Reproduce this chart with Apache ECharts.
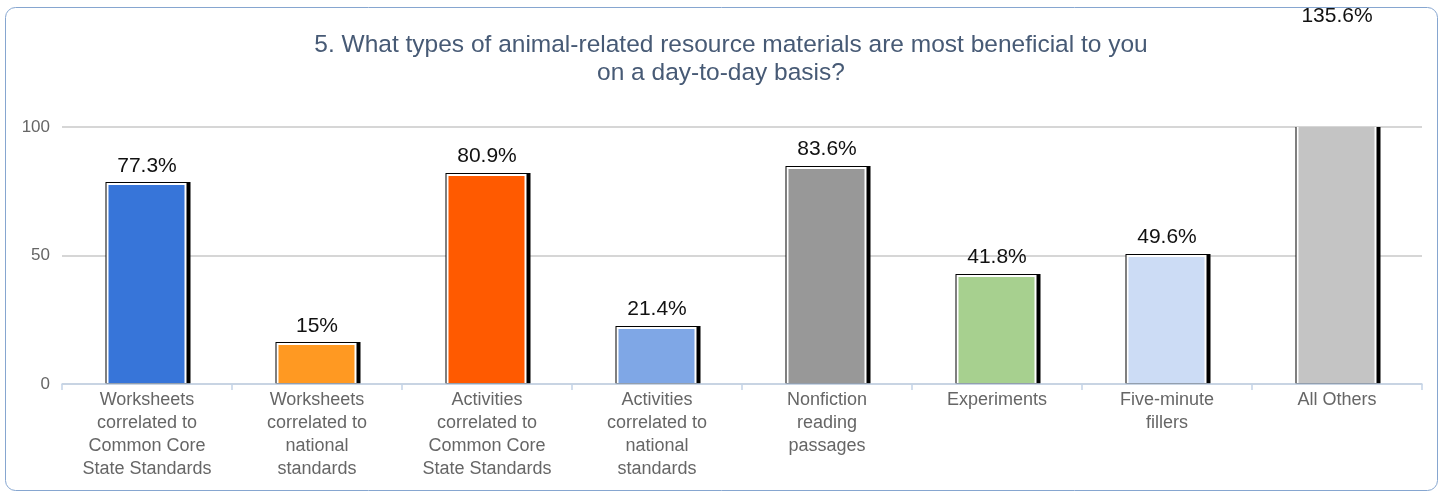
<!DOCTYPE html>
<html>
<head>
<meta charset="utf-8">
<style>
  html, body { margin: 0; padding: 0; background: #fff; }
  #main { width: 1439px; height: 493px; }
</style>
<script src="https://cdn.jsdelivr.net/npm/echarts@6/dist/echarts.min.js"></script>
</head>
<body>
<div id="main"></div>
<script>
// categories and values
var categories = [
  'Worksheets\ncorrelated to\nCommon Core\nState Standards',
  'Worksheets\ncorrelated to\nnational\nstandards',
  'Activities\ncorrelated to\nCommon Core\nState Standards',
  'Activities\ncorrelated to\nnational\nstandards',
  'Nonfiction\nreading\npassages',
  'Experiments',
  'Five-minute\nfillers',
  'All Others'
];
var values = [77.3, 15, 80.9, 21.4, 83.6, 41.8, 49.6, 135.6];
var barColors = ['#3775d9', '#ff9922', '#ff5a00', '#7fa7e6', '#989898', '#a7d08f', '#ccdcf5', '#c4c4c4'];
var yTicks = [0, 50, 100];

var chart = echarts.init(document.getElementById('main'));

// bar = black outline with a heavier right edge, white inner rim, then the fill
function renderBar(params, api) {
  var i = api.value(0);
  var v = api.value(1);
  var top = api.coord([i, v]);
  var base = api.coord([i, 0]);
  var cs = params.coordSys;
  var bw = Math.round(api.size([1, 0])[0] * 0.47);
  var x0 = Math.round(base[0] - bw / 2) - 0.5;
  var yBot = base[1];
  var clipped = top[1] - 3 < cs.y;
  // bars above the axis max are cut at the plot top, no top rim there
  var yOut = clipped ? cs.y : Math.round(top[1]) - 3;
  var yIn = clipped ? cs.y : yOut + 1;
  var yFill = clipped ? cs.y : yOut + 3;
  return {
    type: 'group',
    children: [
      { type: 'rect', shape: { x: x0 - 1, y: yOut, width: bw + 5, height: yBot - yOut }, style: { fill: '#000' } },
      { type: 'rect', shape: { x: x0, y: yIn, width: bw, height: yBot - 1 - yIn }, style: { fill: '#fff' } },
      { type: 'rect', shape: { x: x0 + 2, y: yFill, width: bw - 4, height: yBot - 3 - yFill + 2 }, style: { fill: barColors[i] } },
      {
        type: 'text',
        x: base[0],
        y: top[1] - 9,
        style: {
          text: v + '%',
          align: 'center',
          verticalAlign: 'bottom',
          fill: '#111',
          fontSize: 21,
          fontFamily: 'Liberation Sans, Arial, sans-serif'
        }
      }
    ]
  };
}

var titleStyle = {
  fontSize: 24.5,
  fontWeight: 'normal',
  color: '#475a75',
  fontFamily: 'Liberation Sans, Arial, sans-serif'
};

var option = {
  animation: false,
  textStyle: { fontFamily: 'Liberation Sans, Arial, sans-serif' },
  graphic: [{
    type: 'rect',
    shape: { x: 5.5, y: 7.5, width: 1432, height: 483, r: 10 },
    style: { fill: 'none', stroke: '#86a6d0', lineWidth: 1 },
    z: -1
  }],
  title: [
    {
      text: '5. What types of animal-related resource materials are most beneficial to you',
      left: 731, top: 33, textAlign: 'center', padding: 0,
      textStyle: titleStyle
    },
    {
      text: 'on a day-to-day basis?',
      left: 721, top: 61, textAlign: 'center', padding: 0,
      textStyle: titleStyle
    }
  ],
  grid: { left: 62, right: 17, top: 127, bottom: 109 },
  xAxis: {
    type: 'category',
    data: categories,
    axisLine: { lineStyle: { color: '#c3d3e8', width: 1.5 } },
    axisTick: { show: true, length: 6, lineStyle: { color: '#c3d3e8', width: 1.5 } },
    axisLabel: {
      color: '#666',
      fontSize: 18,
      lineHeight: 23,
      margin: 5,
      interval: 0
    },
    z: 5
  },
  yAxis: {
    type: 'value',
    min: yTicks[0],
    max: yTicks[yTicks.length - 1],
    interval: 50,
    axisLine: { show: false },
    axisTick: { show: false },
    axisLabel: { color: '#666', fontSize: 17, margin: 12 },
    splitLine: { lineStyle: { color: '#c8c8c8', width: 1.5 } }
  },
  series: [{
    type: 'custom',
    renderItem: renderBar,
    clip: false,
    encode: { x: 0, y: 1 },
    data: values.map(function (v, i) { return [i, v]; }),
    z: 3
  }]
};

chart.setOption(option);
</script>
</body>
</html>
